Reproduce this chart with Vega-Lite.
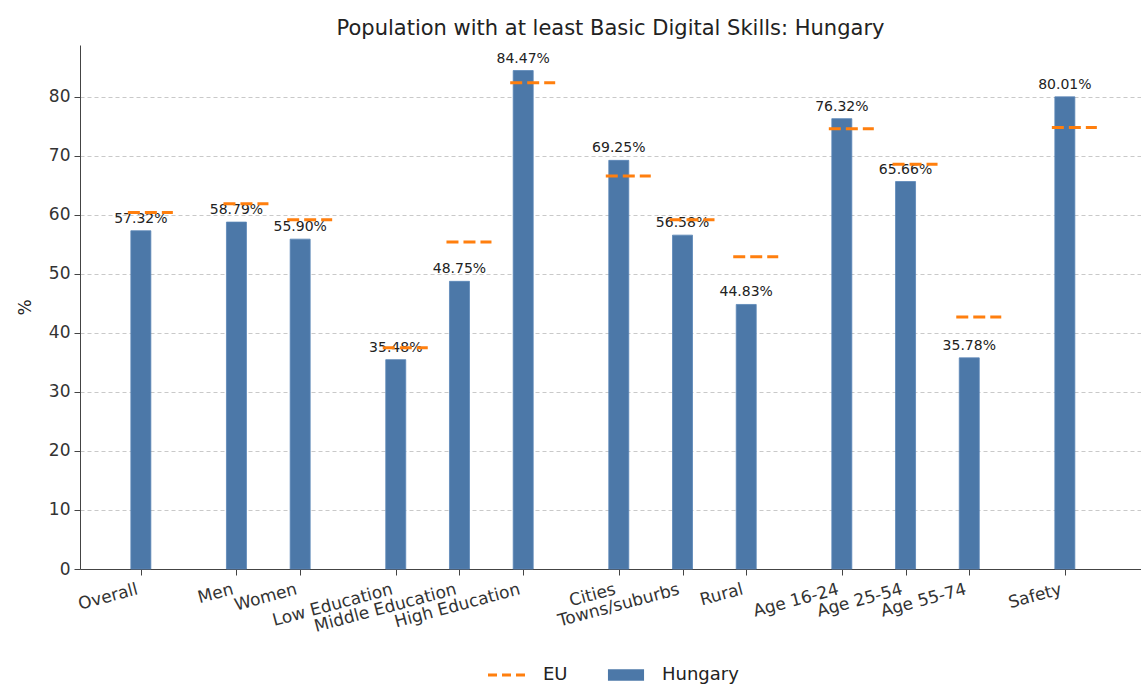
{
  "$schema": "https://vega.github.io/schema/vega-lite/v6.json",
  "autosize": "none",
  "width": 1061,
  "height": 524,
  "padding": {"left": 80, "right": 0, "top": 45, "bottom": 115},
  "background": "white",
  "title": {
    "text": "Population with at least Basic Digital Skills: Hungary",
    "font": "DejaVu Sans",
    "fontSize": 21,
    "fontWeight": "normal",
    "color": "#222",
    "anchor": "middle",
    "baseline": "alphabetic",
    "offset": -11
  },
  "config": {
    "view": {"stroke": null},
    "font": "DejaVu Sans",
    "legend": {
      "labelOffset": 27,
      "columnPadding": 39,
      "labelFontSize": 18,
      "labelFont": "DejaVu Sans",
      "labelColor": "#222",
      "symbolSize": 1444,
      "padding": 0
    }
  },
  "data": {
    "values": [
      {"category": "Overall", "hungary": 57.32, "eu": 60.4},
      {"category": "Men", "hungary": 58.79, "eu": 61.9},
      {"category": "Women", "hungary": 55.90, "eu": 59.2},
      {"category": "Low Education", "hungary": 35.48, "eu": 37.5},
      {"category": "Middle Education", "hungary": 48.75, "eu": 55.4},
      {"category": "High Education", "hungary": 84.47, "eu": 82.4},
      {"category": "Cities", "hungary": 69.25, "eu": 66.6},
      {"category": "Towns/suburbs", "hungary": 56.58, "eu": 59.2},
      {"category": "Rural", "hungary": 44.83, "eu": 52.9},
      {"category": "Age 16-24", "hungary": 76.32, "eu": 74.6},
      {"category": "Age 25-54", "hungary": 65.66, "eu": 68.6},
      {"category": "Age 55-74", "hungary": 35.78, "eu": 42.7},
      {"category": "Safety", "hungary": 80.01, "eu": 74.8}
    ]
  },
  "transform": [
    {"calculate": "format(datum.hungary, '.2f') + '%'", "as": "label"}
  ],
  "encoding": {
    "x": {
      "field": "category",
      "type": "nominal",
      "sort": null,
      "scale": {
        "type": "point",
        "domain": ["_0","Overall","_1","_2","Men","_3","Women","_4","_5","Low Education","_6","Middle Education","_7","High Education","_8","_9","Cities","_10","Towns/suburbs","_11","Rural","_12","_13","Age 16-24","_14","Age 25-54","_15","Age 55-74","_16","_17","Safety","_18","_19"],
        "padding": 0.65,
        "align": 0.7
      },
      "axis": {
        "title": null,
        "values": ["Overall","Men","Women","Low Education","Middle Education","High Education","Cities","Towns/suburbs","Rural","Age 16-24","Age 25-54","Age 55-74","Safety"],
        "labelAngle": -15,
        "labelAlign": "right",
        "labelBaseline": "top",
        "labelFontSize": 17,
        "labelFont": "DejaVu Sans",
        "labelColor": "#333",
        "labelPadding": 6,
        "labelOffset": -6,
        "labelOverlap": false,
        "tickSize": 6,
        "tickColor": "#444",
        "domainColor": "#444",
        "grid": false
      }
    }
  },
  "layer": [
    {
      "mark": {"type": "bar", "size": 20, "stroke": "#5a86b8", "strokeWidth": 0.8},
      "encoding": {
        "y": {
          "field": "hungary",
          "type": "quantitative",
          "scale": {"domain": [0, 88.8], "nice": false},
          "axis": {
            "title": "%",
            "titleFontSize": 17,
            "titleFont": "DejaVu Sans",
            "titleFontWeight": "normal",
            "titleColor": "#222",
            "titlePadding": 14,
            "values": [0, 10, 20, 30, 40, 50, 60, 70, 80],
            "labelFontSize": 17,
            "labelFont": "DejaVu Sans",
            "labelColor": "#333",
            "labelPadding": 4,
            "tickSize": 6,
            "tickColor": "#444",
            "domainColor": "#444",
            "grid": true,
            "gridDash": [4, 3],
            "gridColor": "#bbb",
            "gridWidth": 0.8
          }
        },
        "color": {
          "datum": "Hungary",
          "type": "nominal",
          "scale": {"domain": ["EU", "Hungary"], "range": ["#ff7f0e", "#4c78a8"]},
          "legend": {
            "orient": "none",
            "legendX": 418,
            "legendY": 621,
            "direction": "horizontal",
            "title": null,
            "labelOffset": 27,
            "columnPadding": 39,
            "encode": {
              "symbols": {
                "update": {
                  "shape": {"signal": "datum.value === 'EU' ? 'stroke' : 'M-0.95,-0.3H0.95V0.3H-0.95Z'"},
                  "fill": {"signal": "datum.value === 'EU' ? 'transparent' : '#4c78a8'"},
                  "stroke": {"signal": "datum.value === 'EU' ? '#ff7f0e' : '#4c78a8'"},
                  "strokeWidth": {"signal": "datum.value === 'EU' ? 3 : 0"},
                  "strokeDash": {"signal": "datum.value === 'EU' ? [9, 5] : [1, 0]"},
                  "opacity": {"value": 1}
                }
              }
            }
          }
        }
      }
    },
    {
      "mark": {"type": "text", "fontSize": 14, "font": "DejaVu Sans", "color": "#222", "baseline": "alphabetic", "dy": -8},
      "encoding": {
        "y": {"field": "hungary", "type": "quantitative"},
        "text": {"field": "label", "type": "nominal"}
      }
    },
    {
      "mark": {"type": "rule", "strokeWidth": 3, "strokeDash": [12, 5], "xOffset": -13, "x2Offset": 32},
      "encoding": {
        "x2": {"field": "category"},
        "y": {"field": "eu", "type": "quantitative"},
        "color": {
          "datum": "EU",
          "type": "nominal",
          "legend": {
            "orient": "none",
            "legendX": 418,
            "legendY": 621,
            "direction": "horizontal",
            "title": null,
            "labelOffset": 27,
            "columnPadding": 39,
            "encode": {
              "symbols": {
                "update": {
                  "shape": {"signal": "datum.value === 'EU' ? 'stroke' : 'M-0.95,-0.3H0.95V0.3H-0.95Z'"},
                  "fill": {"signal": "datum.value === 'EU' ? 'transparent' : '#4c78a8'"},
                  "stroke": {"signal": "datum.value === 'EU' ? '#ff7f0e' : '#4c78a8'"},
                  "strokeWidth": {"signal": "datum.value === 'EU' ? 3 : 0"},
                  "strokeDash": {"signal": "datum.value === 'EU' ? [9, 5] : [1, 0]"},
                  "opacity": {"value": 1}
                }
              }
            }
          }
        }
      }
    }
  ]
}
